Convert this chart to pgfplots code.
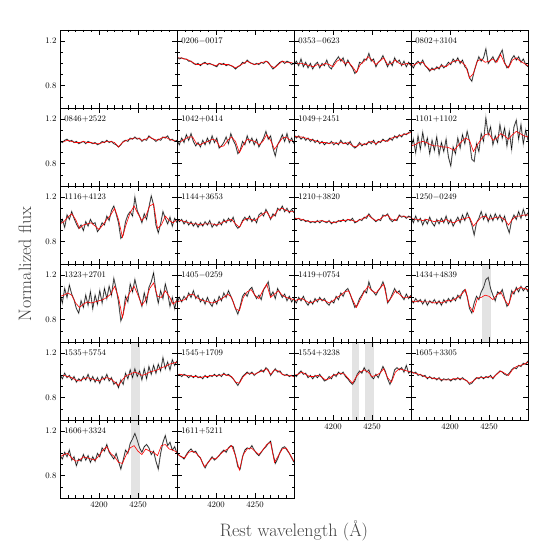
\documentclass[border=0pt]{standalone}
\usepackage{fontspec}
\usepackage{pgfplots}
\pgfplotsset{compat=1.18}

\pgfplotsset{
  spec/.style={
    width=117pt, height=78pt, scale only axis, anchor=north west,
    xmin=4150, xmax=4300, ymin=0.6, ymax=1.3,
    xtick={4200,4250}, ytick={0.8,1.2},
    minor xtick={4160,4170,4180,4190,4210,4220,4230,4240,4260,4270,4280,4290},
    minor ytick={0.7,0.9,1.0,1.1},
    xticklabels={}, yticklabels={},
    tick align=inside, major tick length=5pt, minor tick length=2.5pt,
    tick style={black, line width=0.5pt},
    axis line style={line width=0.7pt},
    ticklabel style={font=\fontsize{8.5}{10}\selectfont},
    axis on top,
  },
  xlab/.style={xticklabels={4200,4250}},
  ylab/.style={yticklabels={0.8,1.2}},
  obs/.style={black, line width=0.4pt, preaction={draw=gray!55, line width=1.3pt}},
  mod/.style={red, line width=0.6pt},
  band/.style={fill=gray!22, draw=none},
}
\newcommand{\lab}[1]{\node[anchor=west, inner sep=0pt, font=\fontsize{8.5}{10}\selectfont] at (rel axis cs:0.035,0.857) {#1};}

\begin{document}
\begin{tikzpicture}
\useasboundingbox (0,0) rectangle (558pt,558pt);

% row 1
\begin{axis}[spec, ylab, at={(60pt,528pt)}]
\end{axis}

\begin{axis}[spec, at={(177pt,528pt)}]
\addplot[obs] coordinates {(4150,1.06)(4153,1.04)(4156,1.05)(4159,1.04)(4162,1.04)(4165,1.02)(4168,1.02)(4171,1.00)(4174,0.99)(4177,1.00)(4180,0.98)(4183,1.00)(4186,1.01)(4189,0.99)(4192,1.00)(4195,0.99)(4198,0.98)(4201,0.97)(4204,1.00)(4207,0.99)(4210,1.00)(4213,0.98)(4216,0.99)(4219,0.98)(4222,0.97)(4225,0.95)(4228,0.97)(4231,0.98)(4234,1.01)(4237,1.00)(4240,1.03)(4243,1.01)(4246,1.00)(4249,0.99)(4252,1.00)(4255,0.99)(4258,1.01)(4261,1.00)(4264,1.02)(4267,1.01)(4270,0.98)(4273,0.95)(4276,0.97)(4279,0.99)(4282,1.01)(4285,1.02)(4288,1.00)(4291,1.02)(4294,1.01)(4297,0.99)(4300,1.00)};
\addplot[mod] coordinates {(4150,1.05)(4155,1.05)(4160,1.04)(4165,1.03)(4170,1.01)(4175,0.99)(4180,0.99)(4185,1.00)(4190,1.00)(4195,0.99)(4200,0.98)(4205,1.00)(4210,0.99)(4215,0.99)(4220,0.98)(4225,0.96)(4230,0.98)(4235,1.00)(4240,1.02)(4245,1.00)(4250,0.99)(4255,1.00)(4260,1.01)(4265,1.02)(4270,0.98)(4275,0.96)(4280,0.99)(4285,1.02)(4290,1.01)(4295,1.01)(4300,1.00)};
\lab{0206$-$0017}
\end{axis}

\begin{axis}[spec, at={(294pt,528pt)}]
\addplot[obs] coordinates {(4150,0.99)(4153,1.02)(4156,0.98)(4159,1.04)(4162,0.97)(4165,1.01)(4168,0.96)(4171,1.00)(4174,0.95)(4177,0.99)(4180,1.01)(4183,0.96)(4186,1.00)(4189,0.98)(4192,1.03)(4195,0.97)(4198,0.95)(4201,1.00)(4204,1.03)(4207,1.06)(4210,1.02)(4213,1.05)(4216,0.98)(4219,1.03)(4222,0.99)(4225,0.96)(4228,0.91)(4231,0.93)(4234,1.01)(4237,1.00)(4240,1.04)(4243,1.03)(4246,1.09)(4249,1.02)(4252,1.04)(4255,0.97)(4258,1.01)(4261,1.03)(4264,1.07)(4267,1.02)(4270,0.97)(4273,1.02)(4276,0.98)(4279,1.05)(4282,1.01)(4285,1.03)(4288,0.98)(4291,1.02)(4294,0.97)(4297,1.01)(4300,0.98)};
\addplot[mod] coordinates {(4150,1.00)(4155,1.00)(4160,1.00)(4165,0.99)(4170,0.98)(4175,0.97)(4180,0.99)(4185,0.98)(4190,1.00)(4195,0.99)(4200,0.97)(4205,1.02)(4210,1.04)(4215,1.00)(4220,1.01)(4225,0.97)(4230,0.92)(4235,0.99)(4240,1.02)(4245,1.06)(4250,1.03)(4255,0.99)(4260,1.02)(4265,1.05)(4270,0.99)(4275,1.00)(4280,1.03)(4285,1.00)(4290,0.99)(4295,1.00)(4300,0.99)};
\lab{0353$-$0623}
\end{axis}

\begin{axis}[spec, at={(411pt,528pt)}]
\addplot[obs] coordinates {(4150,0.99)(4153,0.96)(4156,1.00)(4159,1.02)(4162,0.99)(4165,1.03)(4168,0.98)(4171,0.96)(4174,0.93)(4177,0.96)(4180,0.94)(4183,0.97)(4186,0.95)(4189,0.99)(4192,0.96)(4195,0.98)(4198,1.01)(4201,0.99)(4204,1.04)(4207,1.01)(4210,1.05)(4213,1.00)(4216,1.03)(4219,0.97)(4222,0.95)(4225,0.87)(4228,0.84)(4231,0.93)(4234,1.00)(4237,1.06)(4240,1.02)(4243,1.05)(4246,1.13)(4249,1.00)(4252,1.03)(4255,1.06)(4258,1.01)(4261,1.04)(4264,1.08)(4267,1.12)(4270,1.01)(4273,0.96)(4276,0.98)(4279,1.04)(4282,1.07)(4285,1.03)(4288,1.06)(4291,1.01)(4294,1.04)(4297,0.99)(4300,0.97)};
\addplot[mod] coordinates {(4150,0.98)(4155,0.99)(4160,1.01)(4165,1.01)(4170,0.97)(4175,0.94)(4180,0.95)(4185,0.96)(4190,0.98)(4195,0.97)(4200,1.00)(4205,1.02)(4210,1.03)(4215,1.01)(4220,0.98)(4225,0.87)(4230,0.91)(4235,1.02)(4240,1.04)(4245,1.01)(4250,1.02)(4255,1.04)(4260,1.01)(4265,1.08)(4270,1.00)(4275,0.96)(4280,1.03)(4285,1.05)(4290,1.02)(4295,1.00)(4300,0.98)};
\lab{0802+3104}
\end{axis}

% row 2
\begin{axis}[spec, ylab, at={(60pt,450pt)}]
\addplot[obs] coordinates {(4150,1.00)(4153,0.99)(4156,1.01)(4159,1.02)(4162,1.00)(4165,1.01)(4168,0.99)(4171,1.00)(4174,0.98)(4177,0.99)(4180,1.00)(4183,0.98)(4186,1.00)(4189,0.99)(4192,0.98)(4195,0.99)(4198,0.97)(4201,0.98)(4204,1.00)(4207,0.99)(4210,1.01)(4213,0.99)(4216,1.00)(4219,0.98)(4222,0.97)(4225,0.95)(4228,0.97)(4231,1.00)(4234,1.01)(4237,1.00)(4240,1.03)(4243,1.02)(4246,1.04)(4249,1.02)(4252,1.03)(4255,1.00)(4258,1.02)(4261,1.01)(4264,1.05)(4267,1.03)(4270,1.02)(4273,1.00)(4276,1.02)(4279,1.01)(4282,1.04)(4285,1.03)(4288,1.05)(4291,1.01)(4294,1.02)(4297,1.00)(4300,1.01)};
\addplot[mod] coordinates {(4150,1.00)(4155,1.00)(4160,1.01)(4165,1.00)(4170,0.99)(4175,0.99)(4180,1.00)(4185,0.99)(4190,0.99)(4195,0.98)(4200,0.98)(4205,0.99)(4210,1.00)(4215,1.00)(4220,0.99)(4225,0.95)(4230,0.99)(4235,1.01)(4240,1.02)(4245,1.03)(4250,1.03)(4255,1.01)(4260,1.02)(4265,1.04)(4270,1.02)(4275,1.01)(4280,1.03)(4285,1.04)(4290,1.02)(4295,1.01)(4300,1.00)};
\lab{0846+2522}
\end{axis}

\begin{axis}[spec, at={(177pt,450pt)}]
\addplot[obs] coordinates {(4150,1.01)(4153,0.97)(4156,1.03)(4159,0.99)(4162,1.06)(4165,1.01)(4168,1.07)(4171,1.00)(4174,0.96)(4177,0.99)(4180,0.95)(4183,1.01)(4186,0.97)(4189,1.03)(4192,0.98)(4195,1.05)(4198,0.99)(4201,1.03)(4204,0.94)(4207,0.96)(4210,0.99)(4213,1.04)(4216,0.98)(4219,1.07)(4222,1.01)(4225,0.97)(4228,0.89)(4231,0.92)(4234,1.00)(4237,0.97)(4240,1.05)(4243,0.99)(4246,1.03)(4249,0.97)(4252,1.02)(4255,0.95)(4258,0.99)(4261,1.03)(4264,1.09)(4267,1.02)(4270,1.05)(4273,0.94)(4276,0.87)(4279,0.97)(4282,1.01)(4285,1.06)(4288,1.00)(4291,1.07)(4294,0.99)(4297,1.03)(4300,0.98)};
\addplot[mod] coordinates {(4150,1.00)(4155,1.00)(4160,1.02)(4165,1.04)(4170,1.04)(4175,0.98)(4180,0.97)(4185,0.99)(4190,1.00)(4195,1.02)(4200,1.01)(4205,0.95)(4210,0.96)(4215,1.01)(4220,1.04)(4225,1.00)(4230,0.90)(4235,0.97)(4240,1.02)(4245,1.01)(4250,1.00)(4255,0.97)(4260,1.00)(4265,1.06)(4270,1.01)(4275,0.93)(4280,0.98)(4285,1.03)(4290,1.04)(4295,1.01)(4300,1.00)};
\lab{1042+0414}
\end{axis}

\begin{axis}[spec, at={(294pt,450pt)}]
\addplot[obs] coordinates {(4150,1.06)(4153,1.03)(4156,1.05)(4159,1.02)(4162,1.04)(4165,1.01)(4168,1.03)(4171,1.00)(4174,1.02)(4177,0.99)(4180,1.01)(4183,0.98)(4186,1.00)(4189,0.97)(4192,0.99)(4195,0.98)(4198,1.00)(4201,0.97)(4204,0.99)(4207,0.97)(4210,1.01)(4213,0.98)(4216,0.99)(4219,0.97)(4222,1.00)(4225,0.96)(4228,0.94)(4231,0.96)(4234,0.99)(4237,0.96)(4240,0.98)(4243,0.97)(4246,1.00)(4249,0.98)(4252,1.01)(4255,0.97)(4258,1.00)(4261,0.99)(4264,1.02)(4267,1.00)(4270,1.01)(4273,1.03)(4276,1.01)(4279,1.05)(4282,1.03)(4285,1.06)(4288,1.04)(4291,1.07)(4294,1.06)(4297,1.08)(4300,1.09)};
\addplot[mod] coordinates {(4150,1.05)(4155,1.04)(4160,1.04)(4165,1.03)(4170,1.02)(4175,1.01)(4180,1.00)(4185,0.99)(4190,0.99)(4195,0.98)(4200,0.99)(4205,0.98)(4210,0.99)(4215,0.98)(4220,0.99)(4225,0.96)(4230,0.95)(4235,0.98)(4240,0.97)(4245,0.99)(4250,1.00)(4255,0.98)(4260,1.00)(4265,1.01)(4270,1.00)(4275,1.03)(4280,1.04)(4285,1.05)(4290,1.06)(4295,1.07)(4300,1.08)};
\lab{1049+2451}
\end{axis}

\begin{axis}[spec, at={(411pt,450pt)}]
\addplot[obs] coordinates {(4150,0.95)(4153,1.02)(4156,0.90)(4159,1.05)(4162,0.93)(4165,1.08)(4168,0.96)(4171,1.03)(4174,0.89)(4177,1.01)(4180,0.92)(4183,1.04)(4186,0.88)(4189,0.99)(4192,0.91)(4195,1.02)(4198,0.86)(4201,0.78)(4204,0.95)(4207,0.89)(4210,1.03)(4213,0.94)(4216,1.06)(4219,0.98)(4222,1.09)(4225,1.00)(4228,0.84)(4231,0.82)(4234,0.98)(4237,0.91)(4240,1.07)(4243,1.00)(4246,1.21)(4249,1.06)(4252,1.13)(4255,0.97)(4258,1.05)(4261,0.99)(4264,1.15)(4267,1.03)(4270,1.12)(4273,0.96)(4276,1.09)(4279,0.93)(4282,1.13)(4285,1.19)(4288,1.02)(4291,1.15)(4294,0.98)(4297,1.10)(4300,1.01)};
\addplot[mod] coordinates {(4150,0.96)(4155,0.97)(4160,0.99)(4165,1.00)(4170,0.99)(4175,0.97)(4180,0.96)(4185,0.96)(4190,0.95)(4195,0.95)(4200,0.94)(4205,0.92)(4210,0.96)(4215,1.00)(4220,1.03)(4225,1.01)(4230,0.91)(4235,0.97)(4240,1.02)(4245,1.06)(4250,1.07)(4255,1.01)(4260,1.03)(4265,1.07)(4270,1.05)(4275,1.02)(4280,1.06)(4285,1.09)(4290,1.07)(4295,1.05)(4300,1.04)};
\lab{1101+1102}
\end{axis}

% row 3
\begin{axis}[spec, ylab, at={(60pt,372pt)}]
\addplot[obs] coordinates {(4150,0.95)(4153,1.00)(4156,0.93)(4159,1.04)(4162,1.00)(4165,1.07)(4168,1.01)(4171,0.96)(4174,0.92)(4177,0.95)(4180,0.90)(4183,0.98)(4186,0.94)(4189,1.00)(4192,0.96)(4195,0.97)(4198,0.89)(4201,0.92)(4204,0.97)(4207,0.95)(4210,1.03)(4213,0.99)(4216,1.08)(4219,1.12)(4222,1.05)(4225,0.97)(4228,0.83)(4231,0.86)(4234,0.98)(4237,1.04)(4240,1.07)(4243,1.03)(4246,1.20)(4249,1.08)(4252,1.03)(4255,0.97)(4258,1.05)(4261,1.00)(4264,1.11)(4267,1.21)(4270,1.13)(4273,0.95)(4276,0.88)(4279,0.96)(4282,1.07)(4285,1.01)(4288,0.96)(4291,1.02)(4294,0.94)(4297,1.01)(4300,0.97)};
\addplot[mod] coordinates {(4150,0.96)(4155,0.98)(4160,1.02)(4165,1.05)(4170,1.00)(4175,0.92)(4180,0.95)(4185,0.96)(4190,0.97)(4195,0.94)(4200,0.91)(4205,0.95)(4210,1.00)(4215,1.04)(4220,1.10)(4225,1.00)(4230,0.84)(4235,0.96)(4240,1.06)(4245,1.12)(4250,1.05)(4255,0.99)(4260,1.03)(4265,1.12)(4270,1.14)(4275,0.92)(4280,0.95)(4285,1.03)(4290,0.99)(4295,0.97)(4300,1.00)};
\lab{1116+4123}
\end{axis}

\begin{axis}[spec, at={(177pt,372pt)}]
\addplot[obs] coordinates {(4150,1.01)(4153,0.98)(4156,1.00)(4159,0.96)(4162,0.99)(4165,0.95)(4168,0.98)(4171,0.94)(4174,0.97)(4177,0.93)(4180,0.97)(4183,0.94)(4186,0.98)(4189,0.95)(4192,0.99)(4195,0.93)(4198,0.96)(4201,0.94)(4204,0.98)(4207,0.95)(4210,1.00)(4213,0.97)(4216,1.01)(4219,0.98)(4222,1.02)(4225,0.95)(4228,0.92)(4231,0.94)(4234,0.99)(4237,1.02)(4240,0.99)(4243,1.03)(4246,0.98)(4249,1.01)(4252,0.97)(4255,1.04)(4258,1.06)(4261,1.03)(4264,1.09)(4267,1.05)(4270,1.00)(4273,1.05)(4276,1.03)(4279,1.10)(4282,1.08)(4285,1.12)(4288,1.07)(4291,1.10)(4294,1.06)(4297,1.09)(4300,1.06)};
\addplot[mod] coordinates {(4150,1.00)(4155,0.99)(4160,0.98)(4165,0.97)(4170,0.96)(4175,0.96)(4180,0.95)(4185,0.96)(4190,0.96)(4195,0.96)(4200,0.95)(4205,0.96)(4210,0.98)(4215,0.99)(4220,1.00)(4225,0.96)(4230,0.93)(4235,0.99)(4240,1.01)(4245,1.00)(4250,0.99)(4255,1.02)(4260,1.05)(4265,1.07)(4270,1.01)(4275,1.04)(4280,1.09)(4285,1.10)(4290,1.08)(4295,1.07)(4300,1.07)};
\lab{1144+3653}
\end{axis}

\begin{axis}[spec, at={(294pt,372pt)}]
\addplot[obs] coordinates {(4150,1.02)(4153,1.00)(4156,1.01)(4159,0.99)(4162,1.00)(4165,0.98)(4168,0.99)(4171,0.97)(4174,0.98)(4177,0.97)(4180,0.99)(4183,0.97)(4186,0.99)(4189,0.98)(4192,0.97)(4195,0.99)(4198,0.96)(4201,0.98)(4204,0.97)(4207,0.99)(4210,0.98)(4213,1.00)(4216,0.98)(4219,1.00)(4222,0.99)(4225,1.01)(4228,0.97)(4231,0.98)(4234,1.00)(4237,0.99)(4240,1.02)(4243,1.01)(4246,1.05)(4249,1.02)(4252,1.00)(4255,0.98)(4258,1.00)(4261,0.99)(4264,1.04)(4267,1.03)(4270,1.05)(4273,1.00)(4276,0.98)(4279,1.00)(4282,0.99)(4285,1.04)(4288,1.02)(4291,1.03)(4294,1.01)(4297,1.03)(4300,1.02)};
\addplot[mod] coordinates {(4150,1.01)(4155,1.01)(4160,1.00)(4165,0.99)(4170,0.98)(4175,0.98)(4180,0.98)(4185,0.99)(4190,0.98)(4195,0.98)(4200,0.97)(4205,0.98)(4210,0.99)(4215,0.99)(4220,1.00)(4225,0.99)(4230,0.98)(4235,1.00)(4240,1.01)(4245,1.04)(4250,1.01)(4255,0.99)(4260,1.00)(4265,1.03)(4270,1.04)(4275,1.00)(4280,0.99)(4285,1.03)(4290,1.03)(4295,1.02)(4300,1.02)};
\lab{1210+3820}
\end{axis}

\begin{axis}[spec, at={(411pt,372pt)}]
\addplot[obs] coordinates {(4150,1.02)(4153,0.97)(4156,1.03)(4159,0.98)(4162,1.01)(4165,0.95)(4168,1.00)(4171,0.96)(4174,1.02)(4177,0.97)(4180,0.94)(4183,1.00)(4186,0.96)(4189,1.01)(4192,0.97)(4195,1.03)(4198,0.96)(4201,1.00)(4204,0.94)(4207,0.98)(4210,1.02)(4213,0.97)(4216,1.04)(4219,0.99)(4222,1.06)(4225,1.01)(4228,0.95)(4231,0.86)(4234,0.97)(4237,1.01)(4240,1.07)(4243,1.00)(4246,1.05)(4249,0.98)(4252,1.04)(4255,0.99)(4258,1.05)(4261,1.00)(4264,1.04)(4267,0.98)(4270,1.03)(4273,0.94)(4276,0.88)(4279,0.99)(4282,1.04)(4285,1.00)(4288,1.07)(4291,1.01)(4294,1.09)(4297,1.03)(4300,1.06)};
\addplot[mod] coordinates {(4150,1.01)(4155,1.00)(4160,1.00)(4165,0.99)(4170,1.00)(4175,0.99)(4180,0.98)(4185,0.99)(4190,0.98)(4195,1.00)(4200,0.98)(4205,0.97)(4210,0.99)(4215,1.00)(4220,1.01)(4225,1.02)(4230,0.94)(4235,0.98)(4240,1.02)(4245,1.03)(4250,1.00)(4255,1.01)(4260,1.02)(4265,1.02)(4270,1.00)(4275,0.95)(4280,1.00)(4285,1.03)(4290,1.03)(4295,1.04)(4300,1.04)};
\lab{1250$-$0249}
\end{axis}

% row 4
\begin{axis}[spec, ylab, at={(60pt,294pt)}]
\addplot[obs] coordinates {(4150,1.03)(4153,0.95)(4156,1.08)(4159,1.00)(4162,1.11)(4165,1.03)(4168,0.98)(4171,0.90)(4174,0.86)(4177,0.97)(4180,0.91)(4183,1.02)(4186,0.93)(4189,1.05)(4192,0.90)(4195,1.02)(4198,0.94)(4201,1.06)(4204,0.95)(4207,1.08)(4210,0.99)(4213,1.10)(4216,1.02)(4219,1.17)(4222,1.08)(4225,0.96)(4228,0.79)(4231,0.85)(4234,1.01)(4237,0.96)(4240,1.12)(4243,1.05)(4246,1.16)(4249,1.07)(4252,0.99)(4255,0.92)(4258,1.04)(4261,0.95)(4264,1.09)(4267,1.14)(4270,1.22)(4273,1.05)(4276,0.95)(4279,1.06)(4282,0.99)(4285,1.12)(4288,1.04)(4291,0.92)(4294,1.00)(4297,0.90)(4300,0.99)};
\addplot[mod] coordinates {(4150,1.01)(4155,1.02)(4160,1.04)(4165,1.02)(4170,0.95)(4175,0.91)(4180,0.94)(4185,0.96)(4190,0.95)(4195,0.96)(4200,0.97)(4205,0.98)(4210,1.00)(4215,1.03)(4220,1.10)(4225,1.00)(4230,0.82)(4235,0.98)(4240,1.05)(4245,1.10)(4250,1.02)(4255,0.93)(4260,0.98)(4265,1.08)(4270,1.13)(4275,1.01)(4280,1.00)(4285,1.06)(4290,1.01)(4295,0.94)(4300,0.97)};
\lab{1323+2701}
\end{axis}

\begin{axis}[spec, at={(177pt,294pt)}]
\addplot[obs] coordinates {(4150,0.95)(4153,1.00)(4156,0.96)(4159,1.01)(4162,0.98)(4165,1.04)(4168,1.00)(4171,1.06)(4174,0.99)(4177,1.02)(4180,0.96)(4183,0.99)(4186,0.94)(4189,1.00)(4192,0.95)(4195,0.92)(4198,0.98)(4201,0.94)(4204,1.01)(4207,0.97)(4210,1.04)(4213,1.00)(4216,1.06)(4219,1.01)(4222,0.96)(4225,0.90)(4228,0.85)(4231,0.92)(4234,1.01)(4237,1.04)(4240,1.01)(4243,1.07)(4246,1.09)(4249,1.03)(4252,0.99)(4255,1.02)(4258,0.98)(4261,1.07)(4264,1.10)(4267,1.14)(4270,1.01)(4273,1.05)(4276,0.99)(4279,1.08)(4282,1.04)(4285,1.00)(4288,1.03)(4291,0.97)(4294,1.01)(4297,0.96)(4300,0.99)};
\addplot[mod] coordinates {(4150,0.96)(4155,0.97)(4160,0.98)(4165,1.02)(4170,1.03)(4175,1.00)(4180,0.98)(4185,0.97)(4190,0.96)(4195,0.95)(4200,0.96)(4205,0.98)(4210,1.00)(4215,1.03)(4220,1.00)(4225,0.90)(4230,0.88)(4235,1.00)(4240,1.05)(4245,1.07)(4250,1.02)(4255,0.99)(4260,1.06)(4265,1.12)(4270,1.00)(4275,1.03)(4280,1.06)(4285,1.02)(4290,1.00)(4295,0.99)(4300,0.98)};
\lab{1405$-$0259}
\end{axis}

\begin{axis}[spec, at={(294pt,294pt)}]
\addplot[obs] coordinates {(4150,0.98)(4153,0.95)(4156,1.00)(4159,0.97)(4162,1.01)(4165,0.96)(4168,0.93)(4171,0.97)(4174,0.94)(4177,0.99)(4180,0.96)(4183,1.00)(4186,0.97)(4189,0.99)(4192,0.95)(4195,0.93)(4198,0.97)(4201,0.95)(4204,1.01)(4207,0.98)(4210,1.04)(4213,1.01)(4216,1.06)(4219,1.08)(4222,1.03)(4225,0.97)(4228,0.91)(4231,0.93)(4234,0.99)(4237,1.02)(4240,1.06)(4243,1.04)(4246,1.14)(4249,1.07)(4252,1.05)(4255,1.02)(4258,1.06)(4261,1.09)(4264,1.14)(4267,1.08)(4270,0.95)(4273,0.98)(4276,1.03)(4279,1.08)(4282,1.04)(4285,1.06)(4288,1.01)(4291,0.98)(4294,1.03)(4297,0.99)(4300,1.02)};
\addplot[mod] coordinates {(4150,0.97)(4155,0.98)(4160,0.99)(4165,0.97)(4170,0.95)(4175,0.96)(4180,0.98)(4185,0.98)(4190,0.97)(4195,0.95)(4200,0.97)(4205,1.00)(4210,1.02)(4215,1.05)(4220,1.06)(4225,0.98)(4230,0.91)(4235,0.98)(4240,1.05)(4245,1.10)(4250,1.06)(4255,1.04)(4260,1.08)(4265,1.12)(4270,0.96)(4275,1.00)(4280,1.06)(4285,1.03)(4290,1.00)(4295,1.00)(4300,1.01)};
\lab{1419+0754}
\end{axis}

\begin{axis}[spec, at={(411pt,294pt)}]
\addplot[band] coordinates {(4241,0.6)(4253,0.6)(4253,1.3)(4241,1.3)} --cycle;
\addplot[obs] coordinates {(4150,0.98)(4153,0.95)(4156,0.99)(4159,0.96)(4162,0.98)(4165,0.94)(4168,0.98)(4171,0.93)(4174,0.97)(4177,0.95)(4180,0.98)(4183,0.94)(4186,0.97)(4189,0.93)(4192,0.98)(4195,0.95)(4198,0.99)(4201,0.96)(4204,1.00)(4207,0.97)(4210,1.02)(4213,0.99)(4216,1.05)(4219,1.07)(4222,1.01)(4225,0.90)(4228,0.86)(4231,0.95)(4234,1.01)(4237,0.98)(4240,1.05)(4243,1.09)(4246,1.16)(4249,1.18)(4252,1.08)(4255,1.02)(4258,0.97)(4261,1.05)(4264,1.03)(4267,1.07)(4270,0.99)(4273,0.92)(4276,0.95)(4279,1.06)(4282,1.03)(4285,1.09)(4288,1.05)(4291,1.10)(4294,1.06)(4297,1.09)(4300,1.05)};
\addplot[mod] coordinates {(4150,0.97)(4155,0.96)(4160,0.97)(4165,0.96)(4170,0.96)(4175,0.96)(4180,0.95)(4185,0.96)(4190,0.95)(4195,0.97)(4200,0.97)(4205,0.98)(4210,1.00)(4215,1.03)(4220,1.07)(4225,0.92)(4230,0.87)(4235,0.99)(4240,1.00)(4245,1.02)(4250,1.01)(4255,0.98)(4260,1.02)(4265,1.05)(4270,0.98)(4275,0.93)(4280,1.04)(4285,1.07)(4290,1.09)(4295,1.08)(4300,1.07)};
\lab{1434+4839}
\end{axis}

% row 5
\begin{axis}[spec, ylab, at={(60pt,216pt)}]
\addplot[band] coordinates {(4241,0.6)(4253,0.6)(4253,1.3)(4241,1.3)} --cycle;
\addplot[obs] coordinates {(4150,1.01)(4153,0.97)(4156,1.02)(4159,0.98)(4162,1.00)(4165,0.96)(4168,0.99)(4171,0.94)(4174,0.97)(4177,0.95)(4180,0.99)(4183,0.96)(4186,1.01)(4189,0.95)(4192,0.99)(4195,0.94)(4198,0.98)(4201,0.93)(4204,0.99)(4207,0.96)(4210,1.01)(4213,0.95)(4216,0.98)(4219,0.92)(4222,0.94)(4225,0.89)(4228,0.96)(4231,0.92)(4234,1.02)(4237,0.97)(4240,1.05)(4243,0.98)(4246,1.06)(4249,0.99)(4252,1.04)(4255,0.96)(4258,1.06)(4261,0.97)(4264,1.08)(4267,1.01)(4270,1.09)(4273,1.02)(4276,1.10)(4279,1.04)(4282,1.16)(4285,1.06)(4288,1.12)(4291,1.05)(4294,1.14)(4297,1.09)(4300,1.13)};
\addplot[mod] coordinates {(4150,1.00)(4155,1.00)(4160,0.99)(4165,0.98)(4170,0.96)(4175,0.95)(4180,0.97)(4185,0.98)(4190,0.97)(4195,0.96)(4200,0.95)(4205,0.97)(4210,0.98)(4215,0.97)(4220,0.94)(4225,0.91)(4230,0.96)(4235,1.00)(4240,1.01)(4245,1.03)(4250,1.02)(4255,1.00)(4260,1.01)(4265,1.03)(4270,1.04)(4275,1.05)(4280,1.07)(4285,1.08)(4290,1.10)(4295,1.11)(4300,1.12)};
\lab{1535+5754}
\end{axis}

\begin{axis}[spec, at={(177pt,216pt)}]
\addplot[obs] coordinates {(4150,1.00)(4153,1.01)(4156,0.99)(4159,1.01)(4162,1.00)(4165,0.98)(4168,1.00)(4171,0.98)(4174,1.00)(4177,0.98)(4180,0.99)(4183,0.97)(4186,1.00)(4189,0.98)(4192,1.00)(4195,0.99)(4198,1.01)(4201,0.99)(4204,1.01)(4207,0.99)(4210,1.02)(4213,1.00)(4216,1.01)(4219,0.99)(4222,0.97)(4225,0.94)(4228,0.91)(4231,0.95)(4234,0.99)(4237,1.01)(4240,1.03)(4243,1.01)(4246,1.03)(4249,1.00)(4252,1.02)(4255,1.03)(4258,1.05)(4261,1.03)(4264,1.07)(4267,1.05)(4270,1.00)(4273,1.03)(4276,1.06)(4279,1.03)(4282,1.04)(4285,1.01)(4288,1.00)(4291,1.01)(4294,0.99)(4297,1.00)(4300,0.99)};
\addplot[mod] coordinates {(4150,1.00)(4155,1.01)(4160,1.00)(4165,1.00)(4170,0.99)(4175,0.99)(4180,0.98)(4185,0.99)(4190,0.99)(4195,1.00)(4200,1.00)(4205,1.00)(4210,1.01)(4215,1.00)(4220,0.99)(4225,0.94)(4230,0.93)(4235,0.99)(4240,1.02)(4245,1.02)(4250,1.01)(4255,1.03)(4260,1.04)(4265,1.06)(4270,1.01)(4275,1.05)(4280,1.04)(4285,1.01)(4290,1.00)(4295,1.00)(4300,0.99)};
\lab{1545+1709}
\end{axis}

\begin{axis}[spec, xlab, at={(294pt,216pt)}]
\addplot[band] coordinates {(4224,0.6)(4233,0.6)(4233,1.3)(4224,1.3)} --cycle;
\addplot[band] coordinates {(4241,0.6)(4252,0.6)(4252,1.3)(4241,1.3)} --cycle;
\addplot[obs] coordinates {(4150,1.01)(4153,0.99)(4156,1.02)(4159,1.04)(4162,1.01)(4165,1.02)(4168,0.98)(4171,1.00)(4174,0.97)(4177,1.00)(4180,0.98)(4183,1.01)(4186,0.98)(4189,0.95)(4192,0.96)(4195,0.99)(4198,0.97)(4201,1.01)(4204,0.99)(4207,1.03)(4210,1.01)(4213,1.03)(4216,0.99)(4219,0.97)(4222,0.94)(4225,0.92)(4228,0.95)(4231,1.01)(4234,1.04)(4237,1.02)(4240,1.07)(4243,1.03)(4246,1.05)(4249,0.99)(4252,0.97)(4255,1.01)(4258,0.98)(4261,1.03)(4264,1.08)(4267,1.04)(4270,0.97)(4273,0.92)(4276,0.97)(4279,1.05)(4282,1.07)(4285,1.05)(4288,1.07)(4291,1.03)(4294,1.09)(4297,1.02)(4300,1.04)};
\addplot[mod] coordinates {(4150,1.00)(4155,1.01)(4160,1.03)(4165,1.01)(4170,0.99)(4175,0.99)(4180,1.00)(4185,0.99)(4190,0.96)(4195,0.97)(4200,1.00)(4205,1.01)(4210,1.02)(4215,1.01)(4220,0.97)(4225,0.93)(4230,0.99)(4235,1.03)(4240,1.05)(4245,1.03)(4250,0.99)(4255,1.00)(4260,1.02)(4265,1.06)(4270,0.98)(4275,0.94)(4280,1.03)(4285,1.06)(4290,1.05)(4295,1.04)(4300,1.03)};
\lab{1554+3238}
\end{axis}

\begin{axis}[spec, xlab, at={(411pt,216pt)}]
\addplot[obs] coordinates {(4150,1.04)(4153,1.02)(4156,1.03)(4159,1.00)(4162,1.01)(4165,0.99)(4168,1.00)(4171,0.97)(4174,0.99)(4177,0.97)(4180,0.98)(4183,0.96)(4186,0.98)(4189,0.95)(4192,0.97)(4195,0.96)(4198,0.97)(4201,0.95)(4204,0.97)(4207,0.96)(4210,0.98)(4213,0.96)(4216,0.98)(4219,0.96)(4222,0.95)(4225,0.92)(4228,0.93)(4231,0.96)(4234,0.98)(4237,0.97)(4240,0.99)(4243,0.97)(4246,0.99)(4249,0.98)(4252,1.00)(4255,0.97)(4258,1.00)(4261,1.02)(4264,1.04)(4267,1.03)(4270,1.01)(4273,1.00)(4276,1.02)(4279,1.05)(4282,1.07)(4285,1.06)(4288,1.09)(4291,1.08)(4294,1.11)(4297,1.10)(4300,1.13)};
\addplot[mod] coordinates {(4150,1.03)(4155,1.02)(4160,1.01)(4165,1.00)(4170,0.98)(4175,0.98)(4180,0.97)(4185,0.97)(4190,0.96)(4195,0.96)(4200,0.96)(4205,0.97)(4210,0.97)(4215,0.97)(4220,0.96)(4225,0.93)(4230,0.95)(4235,0.98)(4240,0.98)(4245,0.98)(4250,0.99)(4255,0.98)(4260,1.01)(4265,1.04)(4270,1.02)(4275,1.00)(4280,1.05)(4285,1.08)(4290,1.09)(4295,1.10)(4300,1.12)};
\lab{1605+3305}
\end{axis}

% row 6
\begin{axis}[spec, ylab, xlab, at={(60pt,138pt)}]
\addplot[band] coordinates {(4241,0.6)(4253,0.6)(4253,1.3)(4241,1.3)} --cycle;
\addplot[obs] coordinates {(4150,0.98)(4153,0.95)(4156,1.01)(4159,0.97)(4162,1.03)(4165,0.94)(4168,0.97)(4171,0.89)(4174,0.95)(4177,0.93)(4180,0.99)(4183,0.94)(4186,0.98)(4189,0.92)(4192,0.97)(4195,0.93)(4198,1.00)(4201,0.97)(4204,1.05)(4207,1.02)(4210,1.08)(4213,1.01)(4216,0.98)(4219,0.95)(4222,1.00)(4225,0.93)(4228,0.86)(4231,0.94)(4234,1.03)(4237,1.00)(4240,1.09)(4243,1.13)(4246,1.18)(4249,1.12)(4252,1.05)(4255,1.01)(4258,1.06)(4261,1.08)(4264,1.05)(4267,0.99)(4270,1.02)(4273,0.93)(4276,0.86)(4279,1.00)(4282,1.10)(4285,1.16)(4288,1.07)(4291,1.10)(4294,1.03)(4297,1.06)(4300,1.00)};
\addplot[mod] coordinates {(4150,0.97)(4155,0.99)(4160,1.00)(4165,0.96)(4170,0.93)(4175,0.94)(4180,0.97)(4185,0.96)(4190,0.95)(4195,0.94)(4200,0.98)(4205,1.03)(4210,1.06)(4215,1.00)(4220,0.97)(4225,0.92)(4230,0.91)(4235,0.99)(4240,1.05)(4245,1.07)(4250,1.02)(4255,0.99)(4260,1.04)(4265,1.02)(4270,1.01)(4275,0.98)(4280,1.07)(4285,1.08)(4290,1.04)(4295,1.03)(4300,1.01)};
\lab{1606+3324}
\end{axis}

\begin{axis}[spec, xlab, at={(177pt,138pt)}]
\addplot[obs] coordinates {(4150,1.01)(4153,0.98)(4156,0.97)(4159,0.95)(4162,0.99)(4165,1.02)(4168,1.04)(4171,1.01)(4174,1.02)(4177,0.98)(4180,0.96)(4183,0.91)(4186,0.87)(4189,0.91)(4192,0.94)(4195,0.97)(4198,0.94)(4201,0.96)(4204,0.98)(4207,1.01)(4210,1.03)(4213,1.01)(4216,1.05)(4219,1.07)(4222,1.06)(4225,0.98)(4228,0.88)(4231,0.86)(4234,0.97)(4237,1.03)(4240,1.05)(4243,1.04)(4246,1.07)(4249,1.03)(4252,1.00)(4255,0.98)(4258,1.01)(4261,1.04)(4264,1.06)(4267,1.09)(4270,1.11)(4273,1.00)(4276,0.91)(4279,0.95)(4282,1.01)(4285,1.05)(4288,1.06)(4291,1.03)(4294,1.00)(4297,0.96)(4300,0.92)};
\addplot[mod] coordinates {(4150,1.00)(4155,0.97)(4160,0.96)(4165,1.01)(4170,1.02)(4175,1.00)(4180,0.96)(4185,0.88)(4190,0.92)(4195,0.96)(4200,0.95)(4205,0.99)(4210,1.02)(4215,1.04)(4220,1.07)(4225,0.98)(4230,0.85)(4235,0.99)(4240,1.04)(4245,1.05)(4250,1.02)(4255,0.99)(4260,1.03)(4265,1.08)(4270,1.10)(4275,0.92)(4280,0.98)(4285,1.04)(4290,1.05)(4295,0.99)(4300,0.93)};
\lab{1611+5211}
\end{axis}

\node[rotate=90, font=\fontsize{18}{21}\selectfont\addfontfeature{LetterSpace=10}, text=black!75] at (25pt,294pt) {Normalized flux};
\node[font=\fontsize{18}{21}\selectfont\addfontfeature{LetterSpace=10}, text=black!75] at (294pt,27pt) {Rest wavelength (Å)};
\end{tikzpicture}
\end{document}
